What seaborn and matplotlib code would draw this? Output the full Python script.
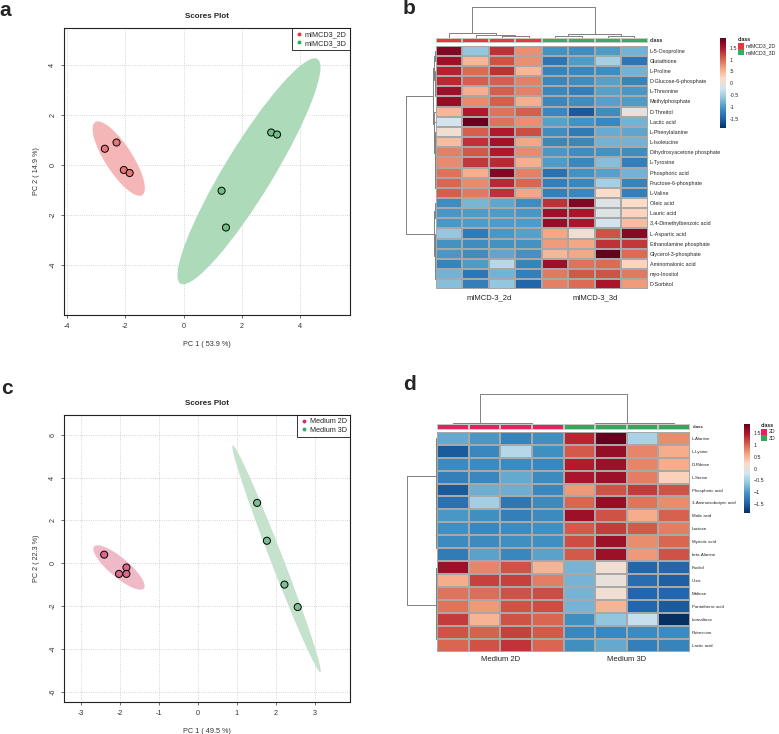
import numpy as np
import pandas as pd
import seaborn as sns
import matplotlib
matplotlib.use("Agg")
import matplotlib.pyplot as plt
from matplotlib.patches import Ellipse, Patch
from matplotlib.lines import Line2D
from matplotlib.colors import ListedColormap, LinearSegmentedColormap

sns.set_style("white")
plt.rcParams["font.family"] = ["Liberation Sans", "DejaVu Sans"]
plt.rcParams["axes.unicode_minus"] = False

W, H = 779, 734

# ---- panel a: PCA scores
a_groups = ["mIMCD3_2D"] * 4 + ["mIMCD3_3D"] * 4
a_pc1 = [-2.7, -2.3, -2.05, -1.85, 3.0, 3.2, 1.3, 1.45]
a_pc2 = [0.65, 0.9, -0.2, -0.32, 1.3, 1.22, -1.03, -2.5]

# ---- panel c: PCA scores
c_groups = ["Medium 2D"] * 4 + ["Medium 3D"] * 4
c_pc1 = [-2.4, -1.83, -2.02, -1.83, 1.52, 1.77, 2.22, 2.56]
c_pc2 = [0.4, -0.2, -0.5, -0.5, 2.82, 1.05, -1.0, -2.05]

# ---- panel b: heatmap
b_rows = ["L-5-Oxoproline", "Glutathione", "L-Proline", "D-Glucose-6-phosphate", "L-Threonine",
          "Methylphosphate", "D-Threitol", "Lactic acid", "L-Phenylalanine", "L-Isoleucine",
          "Dihydroxyacetone phosphate", "L-Tyrosine", "Phosphoric acid", "Fructose-6-phosphate",
          "L-Valine", "Oleic acid", "Lauric acid", "3,4-Dimethylbenzoic acid", "L-Aspartic acid",
          "Ethanolamine phosphate", "Glycerol-3-phosphate", "Aminomalonic acid", "myo-Inositol",
          "D-Sorbitol"]
b_values = [
    [1.75, -0.62, 1.33, 0.76, -1.06, -1.10, -0.99, -0.80],
    [1.60, 0.50, 1.14, 0.76, -1.33, -0.99, -0.50, -1.33],
    [1.42, 0.99, 1.33, 0.50, -1.20, -1.17, -1.10, -0.80],
    [1.37, 1.06, 1.06, 0.85, -1.17, -1.10, -0.95, -1.20],
    [1.60, 0.55, 1.06, 0.85, -1.17, -1.24, -0.95, -1.02],
    [1.64, 0.80, 1.06, 0.55, -1.17, -1.10, -0.95, -0.99],
    [0.50, 1.48, 0.95, 1.06, -1.17, -1.56, -1.10, 0.00],
    [-0.19, 1.90, 0.95, 0.76, -0.95, -1.06, -1.17, -0.80],
    [0.10, 1.06, 1.48, 1.17, -1.10, -1.28, -0.85, -0.90],
    [0.45, 1.33, 1.56, 0.62, -1.17, -1.17, -0.80, -0.80],
    [0.85, 1.10, 1.48, 0.80, -1.02, -1.10, -1.06, -1.10],
    [0.80, 1.28, 1.37, 0.55, -0.99, -1.17, -0.69, -1.24],
    [0.95, 0.55, 1.75, 0.85, -1.37, -1.06, -0.95, -0.80],
    [1.02, 0.80, 1.37, 1.02, -1.24, -1.17, -0.50, -1.20],
    [1.06, 0.90, 1.33, 0.62, -1.24, -1.17, 0.19, -1.24],
    [-1.10, -0.76, -0.90, -1.10, 1.33, 1.75, -0.10, 0.19],
    [-1.02, -0.99, -0.99, -1.02, 1.60, 1.52, -0.10, 0.28],
    [-1.02, -0.99, -0.99, -0.99, 1.64, 1.52, -0.19, 0.45],
    [-0.62, -1.28, -1.02, -0.95, 0.62, 0.10, 1.14, 1.72],
    [-1.06, -1.10, -1.06, -1.06, 0.69, 0.62, 1.33, 1.28],
    [-1.02, -1.10, -0.90, -1.06, 0.50, 0.62, 1.90, 0.99],
    [-1.20, -0.99, -0.38, -1.20, 1.60, 0.95, 0.99, 0.28],
    [-0.80, -1.33, -0.80, -1.24, 0.90, 1.10, 1.14, 0.90],
    [-0.69, -1.24, -0.62, -1.48, 0.85, 0.99, 1.52, 0.69],
]
b_classes = ["mIMCD3_2D"] * 4 + ["mIMCD3_3D"] * 4
b_group_labels = ["mIMCD-3_2d", "mIMCD-3_3d"]
# dendrograms as nested (left, right, height)
b_col_tree = ((0, (1, (2, 3, 0.08), 0.11), 0.16), ((4, 5, 0.07), (6, 7, 0.06), 0.13), 1.0)
b_row_tree = (((((0, 1, 0.03), (2, (3, (4, 5, 0.01), 0.02), 0.03), 0.05),
                (6, (7, ((8, 9, 0.02), ((10, 11, 0.01), (12, (13, 14, 0.01), 0.02), 0.03), 0.04), 0.06), 0.07), 0.1)),
              ((15, (16, 17, 0.01), 0.02), ((18, (19, 20, 0.01), 0.03), (21, (22, 23, 0.01), 0.02), 0.04), 0.07), 1.0)

# ---- panel d: heatmap
d_rows = ["L-Alanine", "L-Lysine", "D-Ribose", "L-Serine", "Phosphoric acid",
          "3-Aminoisobutyric acid", "Malic acid", "Lactose", "Myristic acid", "beta-Alanine",
          "Fucitol", "Urea", "Maltose", "Pantothenic acid", "Isomaltose", "Putrescine", "Lactic acid"]
d_values = [
    [-0.85, -0.99, -1.17, -1.06, 1.37, 1.85, -0.45, 0.76],
    [-1.52, -1.14, -0.38, -1.06, 1.06, 1.60, 0.80, 0.55],
    [-1.10, -1.10, -1.10, -1.14, 1.42, 1.56, 0.80, 0.55],
    [-1.20, -1.14, -0.85, -1.10, 1.48, 1.56, 0.85, 0.28],
    [-1.52, -0.80, -0.80, -1.14, 0.69, 1.10, 1.24, 1.10],
    [-1.33, -0.50, -1.28, -1.10, 0.99, 1.60, 0.90, 0.76],
    [-0.99, -1.06, -1.20, -1.10, 1.56, 1.10, 0.55, 1.02],
    [-1.06, -1.14, -1.10, -1.06, 1.06, 1.24, 1.06, 0.85],
    [-1.10, -1.10, -1.06, -1.06, 1.14, 1.56, 0.76, 0.99],
    [-1.24, -0.90, -1.14, -0.90, 1.06, 1.56, 0.69, 1.10],
    [1.56, 0.80, 1.10, 0.50, -0.76, 0.10, -1.42, -1.42],
    [0.55, 1.20, 1.20, 0.85, -0.76, 0.00, -1.37, -1.48],
    [0.90, 0.95, 1.10, 1.14, -0.76, 0.10, -1.42, -1.42],
    [0.90, 0.69, 1.10, 1.14, -0.76, 0.50, -1.42, -1.52],
    [1.24, 0.50, 1.10, 0.99, -1.06, -0.62, -0.28, -1.85],
    [1.10, 1.02, 1.20, 1.06, -1.14, -1.14, -1.10, -1.10],
    [0.99, 1.10, 1.28, 0.99, -1.06, -0.85, -1.20, -1.17],
]
d_classes = ["2D"] * 4 + ["3D"] * 4
d_group_labels = ["Medium 2D", "Medium 3D"]
d_col_tree = ((0, (1, (2, 3, 0.02), 0.03), 0.045), ((4, 5, 0.02), (6, 7, 0.03), 0.05), 1.0)
d_row_tree = ((((0, (1, 2, 0.01), 0.02), ((3, 4, 0.01), ((5, 6, 0.01), (7, (8, 9, 0.01), 0.02), 0.03), 0.035), 0.045)),
              ((10, ((11, 12, 0.01), 13, 0.02), 0.03), (14, (15, 16, 0.01), 0.03), 0.05), 1.0)

# 10-step RdBu ramp (no pure white centre)
heat_cmap = LinearSegmentedColormap.from_list(
    "rdbu10", ["#053061", "#2166AC", "#4393C3", "#92C5DE", "#D1E5F0",
               "#FDDBC7", "#F4A582", "#D6604D", "#B2182B", "#67001F"])


def box(l, t, r, b):
    return [l / W, 1 - b / H, (r - l) / W, (b - t) / H]


def conf_ellipse(ax, x, y, color):
    cov = np.cov(x, y)
    vals, vecs = np.linalg.eigh(cov)
    order = vals.argsort()[::-1]
    vals, vecs = vals[order], vecs[:, order]
    angle = np.degrees(np.arctan2(vecs[1, 0], vecs[0, 0]))
    k = np.sqrt(5.991)
    ax.add_patch(Ellipse((np.mean(x), np.mean(y)), 2 * k * np.sqrt(vals[0]), 2 * k * np.sqrt(vals[1]),
                         angle=angle, facecolor=color, edgecolor="none", zorder=1))


def scores_plot(ax, pc1, pc2, groups, fills, shades, dots, xlabel, ylabel, xlim, ylim, xticks, yticks):
    df = pd.DataFrame({"PC1": pc1, "PC2": pc2, "group": groups})
    names = list(dict.fromkeys(groups))
    for name, shade in zip(names, shades):
        sub = df[df.group == name]
        conf_ellipse(ax, sub.PC1.values, sub.PC2.values, shade)
    sns.scatterplot(data=df, x="PC1", y="PC2", hue="group", palette=dict(zip(names, fills)),
                    edgecolor="black", linewidth=0.7, s=26, legend=False, ax=ax, zorder=3)
    ax.set_xlim(*xlim)
    ax.set_ylim(*ylim)
    ax.set_xticks(xticks)
    ax.set_yticks(yticks)
    ax.grid(True, linestyle=":", color="#C8C8C8", linewidth=0.6)
    ax.set_axisbelow(True)
    for sp in ax.spines.values():
        sp.set_color("#222222")
        sp.set_linewidth(0.8)
    ax.tick_params(axis="both", labelsize=5.2, length=2.5, width=0.5, colors="#333333",
                   direction="out", bottom=True, left=True, pad=3)
    for lab in ax.get_yticklabels():
        lab.set_rotation(90)
        lab.set_va("center")
    ax.set_title("Scores Plot", fontsize=5.8, fontweight="bold", pad=7)
    ax.set_xlabel(xlabel, fontsize=5.2, color="#333333", labelpad=8)
    ax.set_ylabel(ylabel, fontsize=5.2, color="#333333", labelpad=7)
    handles = [Line2D([], [], marker="o", linestyle="none", markersize=2.8, markerfacecolor=c,
                      markeredgecolor="none") for c in dots]
    leg = ax.legend(handles, names, loc="upper right", fontsize=5.2, frameon=True, fancybox=False,
                    borderaxespad=0, handletextpad=0.3, handlelength=1.0, borderpad=0.45,
                    labelspacing=0.2)
    leg.get_frame().set_edgecolor("black")
    leg.get_frame().set_linewidth(0.7)


def draw_tree(ax, node, columns, color="#808080"):
    if isinstance(node, int):
        return node + 0.5, 0.0
    left, right, h = node
    p1, h1 = draw_tree(ax, left, columns, color)
    p2, h2 = draw_tree(ax, right, columns, color)
    if columns:
        ax.plot([p1, p1, p2, p2], [h1, h, h, h2], color=color, lw=0.7)
    else:
        ax.plot([h1, h, h, h2], [p1, p1, p2, p2], color=color, lw=0.7)
    return (p1 + p2) / 2, h


def heatmap_panel(fig, values, rows, classes, class_colors, group_labels, col_tree, row_tree,
                  hm_box, cls_box, coltree_box, rowtree_box, cb_box, vlim, cb_labels,
                  rowfont, legend_xy):
    n_rows, n_cols = len(rows), len(classes)
    df = pd.DataFrame(values, index=rows)
    hm_ax = fig.add_axes(box(*hm_box))
    cb_ax = fig.add_axes(box(*cb_box))
    sns.heatmap(df, ax=hm_ax, cmap=heat_cmap, vmin=-vlim, vmax=vlim, cbar_ax=cb_ax,
                linewidths=0.35, linecolor="#A8A8A8", xticklabels=False, yticklabels=rows)
    hm_ax.yaxis.tick_right()
    hm_ax.tick_params(axis="y", length=0, labelsize=rowfont, pad=1.5, labelrotation=0)
    hm_ax.set_ylabel("")
    mid = n_cols / 4
    for i, lab in enumerate(group_labels):
        hm_ax.annotate(lab, xy=(mid + i * n_cols / 2, n_rows), xycoords="data", xytext=(0, -3.5),
                       textcoords="offset points", ha="center", va="top", fontsize=5.5, color="#222222")
    cb = hm_ax.collections[0].colorbar
    cb.set_ticks([1.5, 1, 0.5, 0, -0.5, -1, -1.5])
    cb.set_ticklabels(cb_labels)
    cb.outline.set_visible(False)
    cb.ax.tick_params(length=0, labelsize=3.8, pad=2.5)

    names = list(dict.fromkeys(classes))
    codes = [[names.index(c) for c in classes]]
    cls_ax = fig.add_axes(box(*cls_box))
    sns.heatmap(codes, ax=cls_ax, cmap=ListedColormap(class_colors), cbar=False,
                linewidths=0.35, linecolor="#C8C8C8", xticklabels=False, yticklabels=False)
    cls_ax.text(n_cols + 0.08, 0.5, "class", fontsize=rowfont, fontweight="bold", va="center", ha="left")

    ct_ax = fig.add_axes(box(*coltree_box))
    draw_tree(ct_ax, col_tree, True)
    ct_ax.set_xlim(0, n_cols)
    ct_ax.set_ylim(0, col_tree[2] * 1.02)
    ct_ax.axis("off")

    rt_ax = fig.add_axes(box(*rowtree_box))
    draw_tree(rt_ax, row_tree, False)
    rt_ax.set_ylim(n_rows, 0)
    rt_ax.set_xlim(row_tree[2] * 1.02, 0)
    rt_ax.axis("off")

    handles = [Patch(facecolor=c, edgecolor="none") for c in class_colors]
    fig.legend(handles, names, loc="upper left", bbox_to_anchor=(legend_xy[0] / W, 1 - legend_xy[1] / H),
               frameon=False, fontsize=3.8, title="class",
               title_fontproperties={"weight": "bold", "size": 3.8}, alignment="left",
               handlelength=1.1, handleheight=1.4, handletextpad=0.3, borderpad=0, labelspacing=0.1,
               borderaxespad=0)


fig = plt.figure(figsize=(W / 100, H / 100), dpi=100)

ax_a = fig.add_axes(box(64, 28, 350, 315))
scores_plot(ax_a, a_pc1, a_pc2, a_groups,
            fills=["#E6767A", "#6CBF85"], shades=["#F4B6B6", "#ADDAB9"], dots=["#E3343F", "#2EAB5A"],
            xlabel="PC 1 ( 53.9 %)", ylabel="PC 2 ( 14.9 %)",
            xlim=(-4.1, 5.7), ylim=(-6.0, 5.48), xticks=[-4, -2, 0, 2, 4], yticks=[-4, -2, 0, 2, 4])

ax_c = fig.add_axes(box(64, 415, 350, 702))
scores_plot(ax_c, c_pc1, c_pc2, c_groups,
            fills=["#D8698A", "#7CBE93"], shades=["#F0B9C8", "#C4E2CC"], dots=["#DC2A5C", "#3AAA6A"],
            xlabel="PC 1 ( 49.5 %)", ylabel="PC 2 ( 22.3 %)",
            xlim=(-3.43, 3.9), ylim=(-6.49, 6.93), xticks=[-3, -2, -1, 0, 1, 2, 3],
            yticks=[-6, -4, -2, 0, 2, 4, 6])

heatmap_panel(fig, b_values, b_rows, b_classes, ["#E8383D", "#3BAA5A"], b_group_labels,
              b_col_tree, b_row_tree,
              hm_box=(436, 45.6, 647.7, 289.4), cls_box=(436, 38.3, 647.7, 43.3),
              coltree_box=(436, 6, 647.7, 38.3), rowtree_box=(405, 45.6, 436, 289.4),
              cb_box=(720, 38.3, 726, 128.3), vlim=1.9,
              cb_labels=["1.5", "1", ".5", "0", "-0.5", "-1", "-1.5"], rowfont=3.9,
              legend_xy=(738, 37))

heatmap_panel(fig, d_values, d_rows, d_classes, ["#E0245E", "#34A85A"], d_group_labels,
              d_col_tree, d_row_tree,
              hm_box=(437, 431.9, 690, 651.5), cls_box=(437, 424.3, 690, 430),
              coltree_box=(437, 393.3, 690, 424.3), rowtree_box=(406.7, 431.9, 437, 651.5),
              cb_box=(744, 424.3, 750, 512.7), vlim=1.85,
              cb_labels=["1.5", "1", "0.5", "0", "\u22120.5", "\u22121", "\u22121.5"], rowfont=3.2,
              legend_xy=(761, 423))

for letter, x, y in [("a", 5, 10), ("b", 409, 9), ("c", 7, 388), ("d", 409, 385)]:
    fig.text(x / W, 1 - y / H, letter, fontsize=15, fontweight="bold", ha="center", va="center")

fig.savefig("out.png", dpi=100)
